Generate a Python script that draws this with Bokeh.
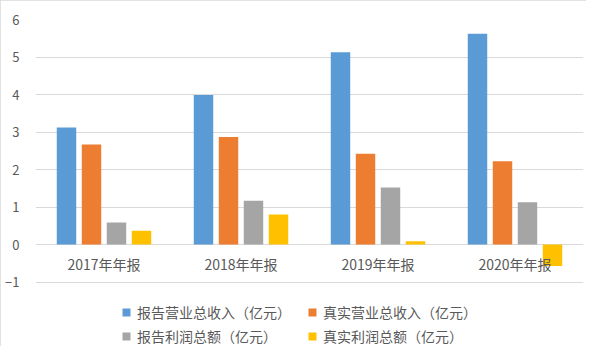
from bokeh.plotting import figure
from bokeh.models import Range1d, FactorRange, FixedTicker, Legend, LegendItem, ColumnDataSource
from bokeh.transform import dodge
from bokeh.core.properties import value
from bokeh.embed import file_html
from bokeh.resources import INLINE

categories = ["2017年年报", "2018年年报", "2019年年报", "2020年年报"]
series_names = ["报告营业总收入（亿元）", "真实营业总收入（亿元）", "报告利润总额（亿元）", "真实利润总额（亿元）"]
reported_revenue = [3.12, 3.99, 5.13, 5.62]
actual_revenue = [2.67, 2.87, 2.42, 2.22]
reported_profit = [0.59, 1.17, 1.52, 1.13]
actual_profit = [0.37, 0.80, 0.09, -0.57]
y_ticks = [-1, 0, 1, 2, 3, 4, 5, 6]

colors = ["#5B9BD5", "#ED7D31", "#A5A5A5", "#FFC000"]
offsets = [-0.2737, -0.0912, 0.0912, 0.2737]
FONT = "Noto Sans CJK SC"
TEXT_COLOR = "#595959"

src = ColumnDataSource(dict(cat=categories, s0=reported_revenue, s1=actual_revenue,
                            s2=reported_profit, s3=actual_profit))

# frame extends to the bottom of the figure so the legend rows can sit under the -1 gridline
p = figure(width=586, height=346,
           x_range=FactorRange(*categories, range_padding=0),
           y_range=Range1d(-2.72, 6),
           output_backend="svg", toolbar_location=None, x_axis_location=None,
           min_border_left=35, min_border_right=3, min_border_top=19, min_border_bottom=0)
p.styles = {"outline": "1px solid #d9d9d9", "outline-offset": "-1px"}
p.outline_line_color = None
p.background_fill_color = "white"
p.border_fill_color = "white"
p.xgrid.visible = False
p.ygrid.grid_line_color = "#d9d9d9"
p.ygrid.grid_line_width = 1
p.yaxis.ticker = FixedTicker(ticks=y_ticks)
p.yaxis.axis_line_color = None
p.yaxis.major_tick_line_color = None
p.yaxis.minor_tick_line_color = None
p.yaxis.major_label_standoff = 10
p.yaxis.major_label_text_font = FONT
p.yaxis.major_label_text_font_size = "13px"
p.yaxis.major_label_text_color = TEXT_COLOR

renderers = []
for i, col in enumerate(["s0", "s1", "s2", "s3"]):
    r = p.vbar(x=dodge("cat", offsets[i], range=p.x_range), top=col, bottom=0, width=0.142,
               source=src, fill_color=colors[i], line_color=None)
    renderers.append(r)

p.text(x=categories, y=[0] * len(categories), text=categories, text_align="center",
       text_baseline="middle", y_offset=19, text_font=value(FONT), text_font_size="14px",
       text_color=TEXT_COLOR)

for row, vy in enumerate([24, 0]):
    items = [LegendItem(label=series_names[2 * row + k], renderers=[renderers[2 * row + k]]) for k in range(2)]
    leg = Legend(items=items, orientation="horizontal", location=(86, vy),
                 glyph_width=10, glyph_height=10, label_standoff=6, spacing=4,
                 padding=0, margin=0, border_line_color=None, background_fill_alpha=0,
                 label_text_font=FONT, label_text_font_size="14px", label_text_color=TEXT_COLOR,
                 label_width=166, label_height=18)
    p.add_layout(leg)

open("out.html", "w").write(file_html(p, INLINE))
